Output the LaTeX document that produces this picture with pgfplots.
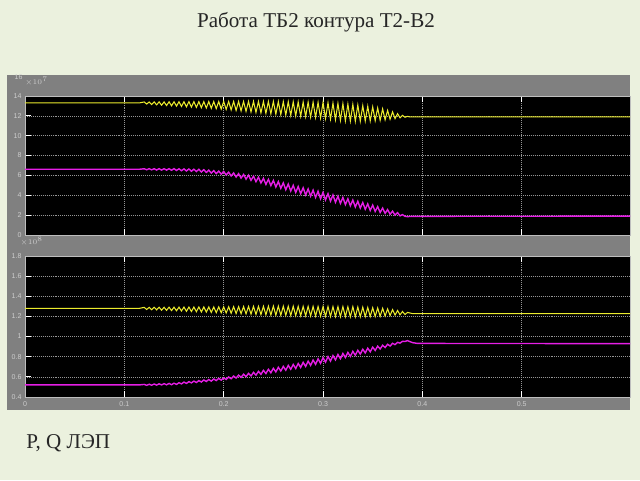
\documentclass[border=0pt]{standalone}
\usepackage{fontspec}
\setmainfont{Liberation Serif}
\newfontfamily\tickfont{Liberation Sans}
\usepackage{pgfplots}
\pgfplotsset{compat=1.18}
\usepackage{pgfplotstable}

\definecolor{bgc}{RGB}{235,241,222}
\definecolor{framec}{RGB}{128,128,128}
\definecolor{gridc}{RGB}{150,150,150}
\definecolor{axc}{RGB}{190,190,190}
\definecolor{tickc}{RGB}{205,205,205}
\definecolor{ylw}{RGB}{235,235,45}
\definecolor{mag}{RGB}{230,30,230}

% upper scope: P (yellow) and Q (magenta), x10^7
\pgfplotstableread{
x y
0 13.3
0.115 13.3
0.1200 13.40
0.1225 13.19
0.1250 13.40
0.1275 13.14
0.1300 13.41
0.1325 13.11
0.1350 13.41
0.1375 13.07
0.1400 13.41
0.1425 13.04
0.1450 13.42
0.1475 13.01
0.1500 13.42
0.1525 12.98
0.1550 13.42
0.1575 12.95
0.1600 13.42
0.1625 12.92
0.1650 13.43
0.1675 12.88
0.1700 13.43
0.1725 12.85
0.1750 13.43
0.1775 12.82
0.1800 13.43
0.1825 12.79
0.1850 13.44
0.1875 12.76
0.1900 13.44
0.1925 12.73
0.1950 13.44
0.1975 12.69
0.2000 13.45
0.2025 12.65
0.2050 13.45
0.2075 12.60
0.2100 13.45
0.2125 12.55
0.2150 13.45
0.2175 12.50
0.2200 13.45
0.2225 12.45
0.2250 13.45
0.2275 12.40
0.2300 13.45
0.2325 12.35
0.2350 13.45
0.2375 12.30
0.2400 13.45
0.2425 12.25
0.2450 13.45
0.2475 12.20
0.2500 13.45
0.2525 12.16
0.2550 13.44
0.2575 12.12
0.2600 13.43
0.2625 12.08
0.2650 13.42
0.2675 12.04
0.2700 13.41
0.2725 12.00
0.2750 13.40
0.2775 11.96
0.2800 13.39
0.2825 11.92
0.2850 13.38
0.2875 11.88
0.2900 13.37
0.2925 11.84
0.2950 13.36
0.2975 11.79
0.3000 13.35
0.3025 11.74
0.3050 13.31
0.3075 11.68
0.3100 13.28
0.3125 11.62
0.3150 13.25
0.3175 11.56
0.3200 13.22
0.3225 11.50
0.3250 13.18
0.3275 11.48
0.3300 13.15
0.3325 11.46
0.3350 13.09
0.3375 11.47
0.3400 13.03
0.3425 11.49
0.3450 12.96
0.3475 11.50
0.3500 12.90
0.3525 11.52
0.3550 12.80
0.3575 11.56
0.3600 12.70
0.3625 11.60
0.3650 12.55
0.3675 11.66
0.3700 12.40
0.3725 11.72
0.3750 12.22
0.3775 11.80
0.3800 12.05
0.3825 11.86
0.3850 11.95
0.3875 11.89
0.390 11.90
0.609 11.90
}\topP

\pgfplotstableread{
x y
0 6.62
0.115 6.62
0.1200 6.67
0.1225 6.57
0.1250 6.68
0.1275 6.56
0.1300 6.68
0.1325 6.54
0.1350 6.68
0.1375 6.54
0.1400 6.68
0.1425 6.53
0.1450 6.68
0.1475 6.52
0.1500 6.69
0.1525 6.50
0.1550 6.67
0.1575 6.47
0.1600 6.66
0.1625 6.45
0.1650 6.65
0.1675 6.42
0.1700 6.63
0.1725 6.39
0.1750 6.62
0.1775 6.35
0.1800 6.58
0.1825 6.30
0.1850 6.53
0.1875 6.24
0.1900 6.49
0.1925 6.18
0.1950 6.44
0.1975 6.13
0.2000 6.40
0.2025 6.05
0.2050 6.33
0.2075 5.94
0.2100 6.25
0.2125 5.84
0.2150 6.18
0.2175 5.73
0.2200 6.10
0.2225 5.63
0.2250 6.03
0.2275 5.51
0.2300 5.92
0.2325 5.37
0.2350 5.82
0.2375 5.24
0.2400 5.71
0.2425 5.10
0.2450 5.61
0.2475 4.97
0.2500 5.50
0.2525 4.83
0.2550 5.38
0.2575 4.70
0.2600 5.25
0.2625 4.56
0.2650 5.13
0.2675 4.43
0.2700 5.00
0.2725 4.29
0.2750 4.88
0.2775 4.16
0.2800 4.76
0.2825 4.03
0.2850 4.64
0.2875 3.91
0.2900 4.52
0.2925 3.78
0.2950 4.41
0.2975 3.65
0.3000 4.29
0.3025 3.53
0.3050 4.16
0.3075 3.41
0.3100 4.03
0.3125 3.29
0.3150 3.91
0.3175 3.18
0.3200 3.78
0.3225 3.06
0.3250 3.65
0.3275 2.94
0.3300 3.52
0.3325 2.82
0.3350 3.40
0.3375 2.71
0.3400 3.27
0.3425 2.59
0.3450 3.14
0.3475 2.47
0.3500 3.01
0.3525 2.37
0.3550 2.86
0.3575 2.27
0.3600 2.71
0.3625 2.18
0.3650 2.56
0.3675 2.09
0.3700 2.40
0.3725 2.00
0.3750 2.25
0.3775 1.93
0.3800 2.05
0.3825 1.88
0.3850 1.85
0.390 1.88
0.609 1.90
}\topQ

% lower scope: x10^8
\pgfplotstableread{
x y
0 1.280
0.115 1.280
0.1200 1.290
0.1225 1.269
0.1250 1.290
0.1275 1.267
0.1300 1.291
0.1325 1.265
0.1350 1.291
0.1375 1.262
0.1400 1.291
0.1425 1.260
0.1450 1.292
0.1475 1.258
0.1500 1.292
0.1525 1.256
0.1550 1.292
0.1575 1.254
0.1600 1.293
0.1625 1.251
0.1650 1.293
0.1675 1.249
0.1700 1.293
0.1725 1.247
0.1750 1.294
0.1775 1.245
0.1800 1.294
0.1825 1.243
0.1850 1.294
0.1875 1.240
0.1900 1.294
0.1925 1.238
0.1950 1.295
0.1975 1.236
0.2000 1.295
0.2025 1.234
0.2050 1.296
0.2075 1.232
0.2100 1.297
0.2125 1.229
0.2150 1.297
0.2175 1.227
0.2200 1.298
0.2225 1.225
0.2250 1.299
0.2275 1.223
0.2300 1.300
0.2325 1.220
0.2350 1.300
0.2375 1.218
0.2400 1.301
0.2425 1.216
0.2450 1.302
0.2475 1.214
0.2500 1.303
0.2525 1.212
0.2550 1.302
0.2575 1.211
0.2600 1.302
0.2625 1.210
0.2650 1.301
0.2675 1.209
0.2700 1.301
0.2725 1.208
0.2750 1.300
0.2775 1.207
0.2800 1.300
0.2825 1.206
0.2850 1.300
0.2875 1.205
0.2900 1.299
0.2925 1.203
0.2950 1.299
0.2975 1.202
0.3000 1.298
0.3025 1.201
0.3050 1.298
0.3075 1.200
0.3100 1.297
0.3125 1.199
0.3150 1.297
0.3175 1.198
0.3200 1.297
0.3225 1.197
0.3250 1.296
0.3275 1.196
0.3300 1.296
0.3325 1.196
0.3350 1.293
0.3375 1.197
0.3400 1.291
0.3425 1.198
0.3450 1.289
0.3475 1.199
0.3500 1.286
0.3525 1.200
0.3550 1.284
0.3575 1.201
0.3600 1.281
0.3625 1.204
0.3650 1.275
0.3675 1.209
0.3700 1.268
0.3725 1.213
0.3750 1.259
0.3775 1.216
0.3800 1.249
0.3825 1.219
0.3850 1.240
0.390 1.228
0.609 1.227
}\botP

\pgfplotstableread{
x y
0 0.520
0.115 0.520
0.1200 0.525
0.1225 0.516
0.1250 0.527
0.1275 0.517
0.1300 0.529
0.1325 0.518
0.1350 0.531
0.1375 0.520
0.1400 0.533
0.1425 0.521
0.1450 0.535
0.1475 0.522
0.1500 0.537
0.1525 0.525
0.1550 0.542
0.1575 0.530
0.1600 0.548
0.1625 0.535
0.1650 0.553
0.1675 0.540
0.1700 0.558
0.1725 0.544
0.1750 0.563
0.1775 0.549
0.1800 0.569
0.1825 0.554
0.1850 0.574
0.1875 0.558
0.1900 0.579
0.1925 0.563
0.1950 0.585
0.1975 0.568
0.2000 0.590
0.2025 0.574
0.2050 0.599
0.2075 0.581
0.2100 0.608
0.2125 0.588
0.2150 0.617
0.2175 0.595
0.2200 0.626
0.2225 0.602
0.2250 0.635
0.2275 0.609
0.2300 0.645
0.2325 0.617
0.2350 0.655
0.2375 0.625
0.2400 0.665
0.2425 0.633
0.2450 0.675
0.2475 0.641
0.2500 0.685
0.2525 0.649
0.2550 0.695
0.2575 0.658
0.2600 0.704
0.2625 0.666
0.2650 0.714
0.2675 0.675
0.2700 0.723
0.2725 0.683
0.2750 0.733
0.2775 0.693
0.2800 0.744
0.2825 0.703
0.2850 0.756
0.2875 0.714
0.2900 0.767
0.2925 0.724
0.2950 0.779
0.2975 0.735
0.3000 0.790
0.3025 0.746
0.3050 0.801
0.3075 0.757
0.3100 0.811
0.3125 0.769
0.3150 0.822
0.3175 0.780
0.3200 0.832
0.3225 0.792
0.3250 0.843
0.3275 0.803
0.3300 0.853
0.3325 0.815
0.3350 0.864
0.3375 0.826
0.3400 0.874
0.3425 0.838
0.3450 0.885
0.3475 0.849
0.3500 0.895
0.3525 0.862
0.3550 0.905
0.3575 0.877
0.3600 0.914
0.3625 0.891
0.3650 0.924
0.3675 0.906
0.3700 0.933
0.3725 0.920
0.3750 0.943
0.3775 0.935
0.3800 0.953
0.3825 0.951
0.3850 0.960
0.390 0.940
0.395 0.932
0.609 0.930
}\botQ

\pgfplotsset{
  scope/.style={
    scale only axis, width=15.125cm,
    xmin=0, xmax=0.609,
    xtick={0,0.1,0.2,0.3,0.4,0.5},
    axis background/.style={fill=black},
    grid=major,
    major grid style={densely dotted, gridc, line width=0.4pt},
    axis line style={axc, line width=0.5pt},
    tick align=inside, xtick pos=both, ytick pos=left,
    major tick length=0.15cm,
    tick style={white, line width=0.6pt},
    tick label style={font=\tickfont\fontsize{5}{6}\selectfont, text=tickc},
    /pgf/number format/assume math mode=true,
    yticklabel style={xshift=1pt},
    clip=true,
  },
}

\begin{document}
\begin{tikzpicture}
\fill[bgc] (0,0) rectangle (16,12);
\useasboundingbox (0,0) rectangle (16,12);
\fill[framec] (0.175,1.75) rectangle (15.75,10.125);

\begin{axis}[scope, at={(0.625cm,6.125cm)}, anchor=south west,
  height=3.475cm, ymin=0, ymax=14, ytick={0,2,4,6,8,10,12,14},
  xticklabels={}]
\addplot[ylw, line width=0.75pt] table {\topP};
\addplot[mag, line width=1pt] table {\topQ};
\end{axis}

\begin{axis}[scope, at={(0.625cm,2.075cm)}, anchor=south west,
  height=3.525cm, ymin=0.4, ymax=1.8,
  ytick={0.4,0.6,0.8,1,1.2,1.4,1.6,1.8},
  yticklabels={0.4,0.6,0.8,1,1.2,1.4,1.6,1.8},
  xticklabels={0,0.1,0.2,0.3,0.4,0.5}]
\addplot[ylw, line width=0.75pt] table {\botP};
\addplot[mag, line width=1pt] table {\botQ};
\end{axis}

\node[anchor=east, inner sep=0pt, text=tickc, font=\tickfont\fontsize{5}{6}\selectfont] at (0.57,10.07) {16};
\node[anchor=south west, inner sep=0pt, text=tickc, font=\tickfont\fontsize{5}{6}\selectfont] at (0.62,9.85) {$\times10^{7}$};
\node[anchor=south west, inner sep=0pt, text=tickc, font=\tickfont\fontsize{5}{6}\selectfont] at (0.5,5.85) {$\times10^{8}$};

\node[anchor=base, inner sep=0pt, text=black!85, font=\fontsize{15}{18}\selectfont] at (7.9,11.3) {Работа ТБ2 контура Т2-В2};
\node[anchor=base west, inner sep=0pt, text=black!85, font=\fontsize{15}{18}\selectfont] at (0.65,0.78) {P, Q ЛЭП};
\end{tikzpicture}
\end{document}
